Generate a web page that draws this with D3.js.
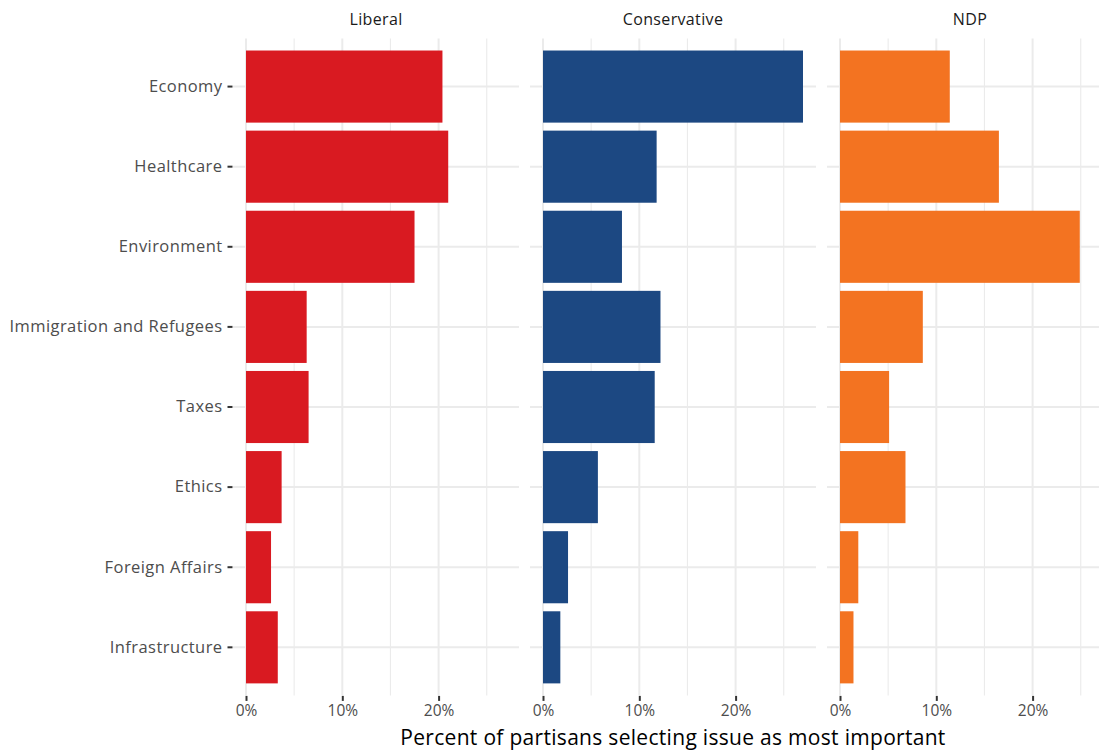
<!DOCTYPE html>
<html>
<head>
<meta charset="utf-8">
<script src="https://cdn.jsdelivr.net/npm/d3@7"></script>
<style>
  html, body { margin: 0; padding: 0; background: #fff; }
  svg { display: block; font-family: "Open Sans", sans-serif; }
</style>
</head>
<body>
<svg id="chart" width="1099" height="751"></svg>
<script>
const issues = ["Economy", "Healthcare", "Environment", "Immigration and Refugees", "Taxes", "Ethics", "Foreign Affairs", "Infrastructure"];
const parties = ["Liberal", "Conservative", "NDP"];
const partyColors = ["#d91a21", "#1c4882", "#f37321"];
const liberalValues = [20.4, 21.0, 17.5, 6.3, 6.5, 3.7, 2.6, 3.3];
const conservativeValues = [27.0, 11.8, 8.2, 12.2, 11.6, 5.7, 2.6, 1.8];
const ndpValues = [11.4, 16.5, 24.9, 8.6, 5.1, 6.8, 1.9, 1.4];
const majorTicks = [0, 10, 20];
const minorTicks = [5, 15, 25];
const xTitle = "Percent of partisans selecting issue as most important";

const seriesValues = [liberalValues, conservativeValues, ndpValues];

const svg = d3.select("#chart");
const panelTop = 38.5, panelBottom = 695.4;
const panelLeft0 = 233, panelWidth = 286, panelStep = 297;

const maxV = d3.max(seriesValues.flat());
const x = d3.scaleLinear().domain([-0.05 * maxV, 1.05 * maxV]).range([0, panelWidth]);
const y = d3.scaleBand().domain(issues).range([panelTop, panelBottom]).paddingInner(0.1).paddingOuter(0.15);

parties.forEach((party, pi) => {
  const g = svg.append("g").attr("transform", `translate(${panelLeft0 + pi * panelStep},0)`);
  g.selectAll("line.minor").data(minorTicks).join("line")
    .attr("x1", d => x(d)).attr("x2", d => x(d))
    .attr("y1", panelTop).attr("y2", panelBottom)
    .attr("stroke", "#ebebeb").attr("stroke-width", 1.1);
  g.selectAll("line.major").data(majorTicks).join("line")
    .attr("x1", d => x(d)).attr("x2", d => x(d))
    .attr("y1", panelTop).attr("y2", panelBottom)
    .attr("stroke", "#ebebeb").attr("stroke-width", 2);
  g.selectAll("line.hgrid").data(issues).join("line")
    .attr("x1", 0).attr("x2", panelWidth)
    .attr("y1", d => y(d) + y.bandwidth() / 2).attr("y2", d => y(d) + y.bandwidth() / 2)
    .attr("stroke", "#ebebeb").attr("stroke-width", 2);
  const vals = seriesValues[pi];
  g.selectAll("rect.bar").data(issues.map((k, i) => ({ k, v: vals[i] }))).join("rect")
    .attr("x", x(0)).attr("y", d => y(d.k))
    .attr("width", d => x(d.v) - x(0)).attr("height", y.bandwidth())
    .attr("fill", partyColors[pi]);
  g.append("text").attr("x", panelWidth / 2).attr("y", 25)
    .attr("text-anchor", "middle").attr("font-size", 16).attr("letter-spacing", 0.35)
    .attr("fill", "#1a1a1a").text(party);
  const xAxis = d3.axisBottom(x).tickValues(majorTicks).tickFormat(d => d + "%").tickSize(5).tickPadding(4);
  const ax = g.append("g").attr("transform", `translate(0,${panelBottom + 0.5})`).call(xAxis);
  ax.select(".domain").remove();
  ax.selectAll(".tick line").attr("stroke", "#333").attr("stroke-width", 2);
  ax.selectAll(".tick text").attr("font-size", 15.5).attr("fill", "#4d4d4d").attr("font-family", "Open Sans, sans-serif");
});

const yAxis = d3.axisLeft(y).tickSize(5).tickPadding(5);
const ay = svg.append("g").attr("transform", `translate(${panelLeft0 - 0.5},0)`).call(yAxis);
ay.select(".domain").remove();
ay.selectAll(".tick line").attr("stroke", "#333").attr("stroke-width", 2);
ay.selectAll(".tick text").attr("font-size", 16.5).attr("letter-spacing", 0.43)
  .attr("fill", "#4d4d4d").attr("font-family", "Open Sans, sans-serif");

svg.append("text").attr("x", panelLeft0 + (panelStep * 2 + panelWidth) / 2).attr("y", 745)
  .attr("text-anchor", "middle").attr("font-size", 21).attr("letter-spacing", 0.3)
  .attr("fill", "#000").text(xTitle);
</script>
</body>
</html>
